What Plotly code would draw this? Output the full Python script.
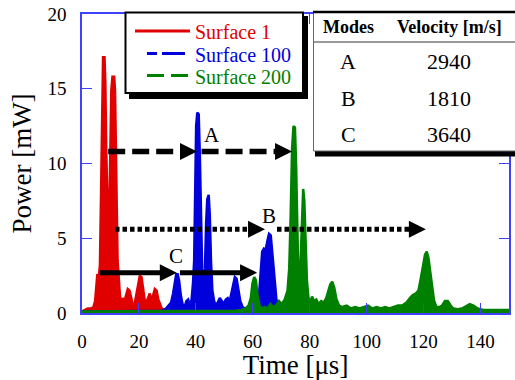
import plotly.graph_objects as go

# ---------------- data ----------------
red_time = [0, 1, 2, 3, 4, 4.6, 5.0, 5.4, 5.9, 6.3,
            6.7, 7.1, 7.4, 7.9, 8.2, 8.5, 8.8, 9.2, 9.6, 10.0,
            10.3, 10.7, 11.3, 11.6, 11.9, 12.2, 12.5, 12.9, 13.3, 13.8,
            14.3, 14.9, 15.5, 16.1, 16.7, 17.3, 17.9, 18.5, 19.1, 19.7,
            20.3, 20.9, 21.4, 22.0, 22.6, 23.2, 23.8, 24.4, 25.0, 25.6,
            26.2, 26.8, 27.4, 28.0, 28.8, 30, 33, 36, 40, 50,
            60, 70, 80, 90, 100, 110, 120, 130, 139]
red_power = [0.1, 0.2, 0.3, 0.3, 0.4, 0.8, 1.8, 2.6, 2.4, 3.2,
             8.0, 15.3, 17.1, 17.1, 15.4, 11.0, 7.5, 5.5, 6.5, 11.0,
             14.9, 15.8, 15.8, 14.9, 10.0, 6.0, 3.5, 2.4, 1.2, 0.6,
             1.0, 0.8, 1.3, 1.6, 1.5, 0.9, 0.5, 0.6, 1.2, 1.9,
             2.5, 2.4, 1.6, 0.9, 0.7, 1.0, 1.3, 0.8, 1.2, 1.6,
             1.5, 0.9, 0.6, 0.3, 0.2, 0.15, 0.1, 0.15, 0.1, 0.1,
             0.15, 0.1, 0.1, 0.12, 0.1, 0.1, 0.12, 0.1, 0.1]

blue_time = [0, 10, 20, 28, 29.5, 30.5, 31.3, 32.0, 32.6, 33.1,
             33.6, 34.1, 34.7, 35.3, 36.0, 36.7, 37.3, 37.9, 38.5, 39.0,
             39.4, 39.8, 40.1, 40.5, 41.0, 41.4, 41.8, 42.2, 42.7, 43.2,
             43.6, 44.0, 44.5, 44.9, 45.3, 45.8, 46.4, 47.0, 47.7, 48.4,
             49.1, 49.8, 50.5, 51.2, 51.9, 52.5, 53.1, 53.7, 54.3, 54.9,
             55.6, 56.4, 57.3, 58.2, 59.1, 60.0, 60.8, 61.6, 62.3, 62.8,
             63.3, 63.9, 64.5, 65.1, 65.7, 66.3, 66.8, 67.3, 67.8, 68.3,
             68.9, 69.6, 70.5, 71.5, 72.5, 73.5, 74.5, 75.5, 76.5, 77.5,
             78.5, 80, 82, 84, 86, 90, 100, 110, 120, 130,
             139]
blue_power = [0.1, 0.1, 0.1, 0.15, 0.3, 0.5, 0.7, 1.3, 2.2, 2.6,
              2.6, 2.2, 1.2, 0.6, 0.4, 0.8, 0.9, 0.5, 0.9, 2.0,
              3.5, 8.0, 12.5, 13.4, 13.3, 10.5, 6.0, 3.0, 1.8, 3.0,
              6.0, 7.6, 7.9, 6.5, 3.5, 1.5, 0.8, 0.5, 0.7, 1.0,
              0.8, 0.6, 0.9, 1.0, 0.8, 1.3, 1.9, 2.4, 2.3, 1.5,
              0.8, 0.4, 0.3, 0.4, 0.5, 0.6, 0.5, 0.8, 1.5, 3.0,
              4.1, 4.3, 4.2, 4.8, 5.3, 5.2, 4.2, 3.0, 1.8, 0.9,
              0.5, 0.3, 0.2, 0.4, 0.2, 0.5, 0.3, 0.8, 0.4, 0.3,
              0.6, 0.3, 0.3, 0.2, 0.1, 0.1, 0.1, 0.1, 0.1, 0.1,
              0.1]

green_time = [0, 10, 20, 30, 40, 50, 54, 56, 57.5, 58.5,
              59.3, 59.9, 60.5, 61.1, 61.7, 62.4, 63.2, 64.2, 65.2, 66.2,
              67.2, 68.2, 69.2, 70.2, 71.2, 72.2, 72.8, 73.3, 73.8, 74.3,
              74.8, 75.2, 75.6, 76.0, 76.4, 76.8, 77.2, 77.7, 78.1, 78.5,
              79.0, 79.5, 80.1, 80.8, 81.5, 82.3, 83.1, 84.0, 84.9, 85.8,
              86.5, 87.2, 87.9, 88.6, 89.4, 90.3, 91.5, 93, 94.5, 96,
              97.5, 99, 100.5, 102, 103.5, 105, 106.5, 108, 109.5, 111,
              112.5, 114, 115.2, 116.2, 117.2, 118.2, 119.0, 119.8, 120.5, 121.1,
              121.7, 122.3, 123.0, 123.7, 124.5, 125.5, 126.5, 127.5, 128.5, 129.5,
              130.5, 132, 133.5, 135, 136.2, 137.5, 139, 141, 145, 150]
green_power = [0.1, 0.1, 0.1, 0.1, 0.1, 0.1, 0.15, 0.2, 0.3, 0.5,
               1.0, 2.0, 2.4, 2.2, 1.1, 0.5, 0.3, 0.4, 0.3, 0.6,
               0.4, 0.5, 0.8, 0.6, 0.9, 1.5, 3.0, 6.5, 11.0, 12.5,
               12.4, 10.0, 6.0, 2.5, 1.4, 3.5, 7.0, 8.3, 7.5, 4.5,
               2.2, 1.1, 0.6, 1.1, 0.8, 0.9, 0.6, 0.8, 0.7, 1.0,
               1.4, 1.9, 2.1, 1.7, 0.9, 0.5, 0.4, 0.5, 0.3, 0.4,
               0.3, 0.4, 0.5, 0.3, 0.4, 0.3, 0.4, 0.3, 0.4, 0.5,
               0.5, 0.7, 1.0, 1.2, 1.3, 1.5, 2.3, 3.3, 3.9, 4.1,
               3.7, 2.8, 1.6, 0.8, 0.4, 0.4, 0.5, 0.8, 0.8, 0.5,
               0.3, 0.25, 0.3, 0.5, 0.6, 0.5, 0.3, 0.2, 0.2, 0.2]

series_names = ["Surface 1", "Surface 100", "Surface 200"]
series_colors = ["#e00000", "#0000dc", "#008000"]

# propagation arrows (mode, y level, start time, arrow tip time)
arrow_mode = ["A", "A", "B", "B", "C", "C"]
arrow_y = [10.8, 10.8, 5.6, 5.6, 2.7, 2.7]
arrow_start = [9.2, 42.0, 11.6, 68.5, 6.3, 34.4]
arrow_end = [40.4, 73.8, 64.3, 120.8, 33.3, 61.5]

modes = ["A", "B", "C"]
mode_label_x = [45.7, 65.7, 33.0]
mode_label_y = [11.9, 6.5, 3.8]
velocities = [2940, 1810, 3640]

x_ticks = [0, 20, 40, 60, 80, 100, 120, 140]
y_ticks = [0, 5, 10, 15, 20]

# ---------------- layout helpers ----------------
W, H = 515, 380
ML, MR, MT, MB = 82, 6, 14, 67
PW, PH = W - ML - MR, H - MT - MB
FONT = "Liberation Serif"
AXCOL = "#4040ff"


def px(xp):
    return (xp - ML) / PW


def py(yp):
    return (H - MB - yp) / PH


fig = go.Figure()

for t, p, name, col in zip([red_time, blue_time, green_time],
                           [red_power, blue_power, green_power],
                           series_names, series_colors):
    fig.add_trace(go.Scatter(x=t, y=p, name=name, mode="lines",
                             line=dict(color=col, width=2.5),
                             fill="tozeroy", fillcolor=col,
                             showlegend=False))

style = {"A": dict(width=5.5, dash="17px,7px"),
         "B": dict(width=5, dash="4.5px,3px"),
         "C": dict(width=5, dash="solid")}

annotations = []
for m, yv, x0, x1 in zip(arrow_mode, arrow_y, arrow_start, arrow_end):
    fig.add_trace(go.Scatter(x=[x0, x1 - 3], y=[yv, yv], mode="lines",
                             line=dict(color="black", **style[m]),
                             showlegend=False, hoverinfo="skip"))
    annotations.append(dict(x=x1, y=yv, ax=x1 - 4, ay=yv, xref="x", yref="y",
                            axref="x", ayref="y", text="", showarrow=True,
                            arrowhead=2, arrowsize=0.85, arrowwidth=4,
                            arrowcolor="black", standoff=0))

for m, lx, ly in zip(modes, mode_label_x, mode_label_y):
    annotations.append(dict(x=lx, y=ly, xref="x", yref="y", text=m,
                            xanchor="center", yanchor="middle",
                            showarrow=False, font=dict(family=FONT, size=21, color="black")))

shapes = []
# legend box
shapes.append(dict(type="rect", xref="paper", yref="paper", layer="above",
                   x0=px(129), x1=px(308), y0=py(99), y1=py(16),
                   fillcolor="black", line=dict(width=0)))
shapes.append(dict(type="rect", xref="paper", yref="paper", layer="above",
                   x0=px(125.5), x1=px(303), y0=py(93), y1=py(12.5),
                   fillcolor="white", line=dict(color="black", width=2)))
legend_rows = [32, 54.5, 76.5]
sample_x0 = [135, 147, 147]
sample_x1 = [190, 185, 190]
sample_dash = ["solid", "10px,5px,23px,5px", "17px,7px"]
for name, col, ry, sx0, sx1, sd in zip(series_names, series_colors, legend_rows,
                                       sample_x0, sample_x1, sample_dash):
    shapes.append(dict(type="line", xref="paper", yref="paper", layer="above",
                       x0=px(sx0), x1=px(sx1), y0=py(ry - 1), y1=py(ry - 1),
                       line=dict(color=col, width=3, dash=sd)))
    annotations.append(dict(x=px(193), y=py(ry), xref="paper", yref="paper",
                            xanchor="left", yanchor="middle", text=name,
                            showarrow=False, font=dict(family=FONT, size=20, color=col)))

# velocity table
shapes.append(dict(type="rect", xref="paper", yref="paper", layer="above",
                   x0=px(315), x1=px(525), y0=py(156.5), y1=py(148),
                   fillcolor="black", line=dict(width=0)))
shapes.append(dict(type="rect", xref="paper", yref="paper", layer="above",
                   x0=px(313.5), x1=px(525), y0=py(151), y1=py(12),
                   fillcolor="white", line=dict(color="#666666", width=1)))
shapes.append(dict(type="line", xref="paper", yref="paper", layer="above",
                   x0=px(313), x1=px(525), y0=py(12), y1=py(12),
                   line=dict(color="black", width=2.5)))
shapes.append(dict(type="line", xref="paper", yref="paper", layer="above",
                   x0=px(313.5), x1=px(525), y0=py(42), y1=py(42),
                   line=dict(color="#777777", width=1.5)))
col_x = [348, 449]
annotations.append(dict(x=px(col_x[0]), y=py(27), xref="paper", yref="paper",
                        xanchor="center", yanchor="middle",
                        text="<b>Modes</b>", showarrow=False,
                        font=dict(family=FONT, size=18, color="black")))
annotations.append(dict(x=px(col_x[1]), y=py(27), xref="paper", yref="paper",
                        xanchor="center", yanchor="middle",
                        text="<b>Velocity [m/s]</b>", showarrow=False,
                        font=dict(family=FONT, size=18, color="black")))
row_y = [61, 98, 134]
for m, v, ry in zip(modes, velocities, row_y):
    annotations.append(dict(x=px(col_x[0]), y=py(ry), xref="paper", yref="paper",
                            xanchor="center", yanchor="middle",
                            text=m, showarrow=False,
                            font=dict(family=FONT, size=22, color="black")))
    annotations.append(dict(x=px(col_x[1]), y=py(ry), xref="paper", yref="paper",
                            xanchor="center", yanchor="middle",
                            text=str(v), showarrow=False,
                            font=dict(family=FONT, size=22, color="black")))

axis_common = dict(showgrid=False, zeroline=False, showline=True, linecolor=AXCOL,
                   linewidth=1.5, mirror="ticks", ticks="inside", ticklen=10,
                   tickwidth=1.2, tickcolor=AXCOL,
                   tickfont=dict(family=FONT, size=19, color="black"))

fig.update_layout(
    width=W, height=H,
    margin=dict(l=ML, r=MR, t=MT, b=MB, autoexpand=False),
    paper_bgcolor="white", plot_bgcolor="white",
    font=dict(family=FONT, color="black"),
    showlegend=False,
    xaxis=dict(range=[0, 150], tickvals=x_ticks, ticklabelstandoff=10,
               title=dict(text="Time [μs]", font=dict(family=FONT, size=27), standoff=6),
               **axis_common),
    yaxis=dict(range=[0, 20], tickvals=y_ticks, ticklabelstandoff=10,
               title=dict(text="Power [mW]", font=dict(family=FONT, size=27), standoff=8),
               **axis_common),
    shapes=shapes,
    annotations=annotations,
)

fig.write_html("out.html", config={"displayModeBar": False},
               post_script="document.body.style.margin='0px';")
